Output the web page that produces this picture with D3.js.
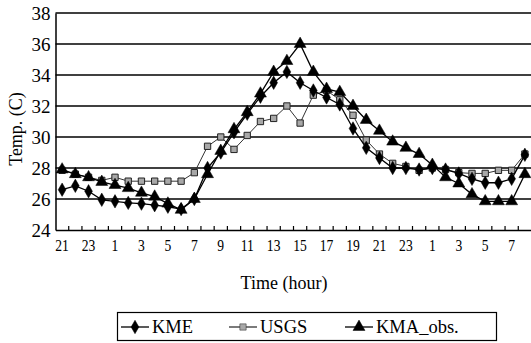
<!DOCTYPE html>
<html>
<head>
<meta charset="utf-8">
<script src="https://cdn.jsdelivr.net/npm/d3@7"></script>
<style>
  html, body { margin: 0; padding: 0; background: #fff; }
  svg { display: block; }
</style>
</head>
<body>
<svg id="chart" width="531" height="343" font-family="Liberation Serif"></svg>
<script>
// Hourly temperature, 21h through 08h two days later
const hours = [21,22,23,0,1,2,3,4,5,6,7,8,9,10,11,12,13,14,15,16,17,18,19,20,21,22,23,0,1,2,3,4,5,6,7,8];
const kme = [26.6,26.85,26.5,25.95,25.85,25.75,25.7,25.6,25.5,25.35,26.0,28.0,29.0,30.3,31.5,32.6,33.5,34.2,33.5,33.0,32.55,32.1,30.55,29.3,28.65,28.0,28.0,27.9,28.0,27.9,27.65,27.3,27.05,27.05,27.3,28.85];
const usgs = [27.85,27.6,27.4,27.2,27.4,27.15,27.15,27.15,27.15,27.15,27.7,29.4,30.0,29.2,30.1,31.0,31.2,32.0,30.9,32.7,33.0,32.4,31.4,29.8,28.9,28.3,28.1,27.85,28.0,27.9,27.7,27.65,27.65,27.85,27.85,28.9];
const kmaObs = [27.9,27.6,27.4,27.1,26.9,26.7,26.4,26.15,25.7,25.3,26.0,27.6,29.1,30.5,31.6,32.8,34.2,34.9,36.0,34.2,33.1,32.9,32.0,31.1,30.4,29.7,29.3,28.9,28.2,27.4,27.0,26.3,25.85,25.85,25.85,27.6];
const yTicks = [24,26,28,30,32,34,36,38];
const seriesNames = ["KME", "USGS", "KMA_obs."];

const FONT = "Liberation Serif";
const svg = d3.select("#chart");
const plot = { left: 55.5, right: 531.5, top: 13, bottom: 230 };

const x = d3.scaleBand().domain(d3.range(hours.length)).range([plot.left, plot.right]).padding(0);
const y = d3.scaleLinear().domain([24, 38]).range([plot.bottom, plot.top]);
const cx = i => x(i) + x.bandwidth() / 2;

// horizontal grid lines
svg.append("g")
  .selectAll("line")
  .data(yTicks.slice(1))
  .join("line")
  .attr("x1", plot.left).attr("x2", plot.right)
  .attr("y1", d => y(d)).attr("y2", d => y(d))
  .attr("stroke", "#000").attr("stroke-width", 1.4);

// y axis
const yAxis = d3.axisLeft(y).tickValues(yTicks).tickSize(0).tickPadding(5).tickFormat(d3.format("d"));
const gy = svg.append("g").attr("transform", `translate(${plot.left},0)`).call(yAxis)
  .attr("font-family", FONT).attr("font-size", 19);
gy.select(".domain").attr("stroke", "#000").attr("stroke-width", 1.5);
gy.selectAll("text").attr("fill", "#000");

// x axis: labels every second hour, narrow glyphs
const xAxis = d3.axisBottom(x).tickSize(0).tickPadding(9)
  .tickFormat(i => (i % 2 === 0 ? String(hours[i]) : ""));
const gx = svg.append("g").attr("transform", `translate(0,${plot.bottom})`).call(xAxis)
  .attr("font-family", FONT).attr("font-size", 17);
gx.select(".domain").attr("stroke", "#000").attr("stroke-width", 1.5);
const sx = 0.8;
gx.selectAll(".tick").each(function(i) {
  d3.select(this).attr("transform", null);
  d3.select(this).select("text")
    .attr("fill", "#000")
    .attr("transform", `scale(${sx},1)`)
    .attr("x", cx(i) / sx).attr("y", 9).attr("dy", "0.71em");
});
// inward ticks at band boundaries
svg.append("g")
  .selectAll("line")
  .data(d3.range(1, hours.length))
  .join("line")
  .attr("x1", i => x(i)).attr("x2", i => x(i))
  .attr("y1", plot.bottom).attr("y2", plot.bottom - 4)
  .attr("stroke", "#000").attr("stroke-width", 1.2);

// axis titles
svg.append("text")
  .attr("transform", `translate(22,129) rotate(-90)`)
  .attr("text-anchor", "middle")
  .attr("font-family", FONT).attr("font-size", 18)
  .text("Temp. (C)");
svg.append("text")
  .attr("x", 284).attr("y", 289)
  .attr("text-anchor", "middle")
  .attr("font-family", FONT).attr("font-size", 18)
  .text("Time (hour)");

// marker shapes
const diamond = d3.symbol().type(d3.symbolDiamond).size(52);
const triangle = d3.symbol().type(d3.symbolTriangle).size(62);
const square = d3.symbol().type(d3.symbolSquare).size(40);

const line = d3.line().x((d, i) => cx(i)).y(d => y(d));

function drawSeries(values, sym, opts) {
  const g = svg.append("g");
  g.append("path").datum(values)
    .attr("d", line).attr("fill", "none")
    .attr("stroke", opts.lineColor).attr("stroke-width", opts.lineWidth);
  g.selectAll("path.m").data(values).join("path").attr("class", "m")
    .attr("transform", (d, i) => `translate(${cx(i)},${y(d)})`)
    .attr("d", sym)
    .attr("fill", opts.fill).attr("stroke", opts.stroke).attr("stroke-width", opts.strokeWidth);
}

drawSeries(usgs, square, { lineColor: "#333", lineWidth: 1, fill: "#a8a8a8", stroke: "#222", strokeWidth: 1 });
drawSeries(kme, diamond, { lineColor: "#000", lineWidth: 1.3, fill: "#000", stroke: "#000", strokeWidth: 0.5 });
drawSeries(kmaObs, triangle, { lineColor: "#000", lineWidth: 1.3, fill: "#000", stroke: "#000", strokeWidth: 0.5 });

// legend
const lg = svg.append("g");
lg.append("rect").attr("x", 117.5).attr("y", 312.5).attr("width", 379).attr("height", 28)
  .attr("fill", "#fff").attr("stroke", "#000").attr("stroke-width", 1.2);
const legendItems = [
  { name: seriesNames[0], x0: 121, sym: diamond, fill: "#000", stroke: "#000", lc: "#000" },
  { name: seriesNames[1], x0: 229, sym: square, fill: "#a8a8a8", stroke: "#222", lc: "#333" },
  { name: seriesNames[2], x0: 345, sym: triangle, fill: "#000", stroke: "#000", lc: "#000" }
];
legendItems.forEach(it => {
  lg.append("line").attr("x1", it.x0).attr("x2", it.x0 + 28).attr("y1", 327).attr("y2", 327)
    .attr("stroke", it.lc).attr("stroke-width", 1.3);
  lg.append("path").attr("transform", `translate(${it.x0 + 14},327)`).attr("d", it.sym)
    .attr("fill", it.fill).attr("stroke", it.stroke).attr("stroke-width", 0.5);
  lg.append("text").attr("x", it.x0 + 31).attr("y", 333)
    .attr("font-family", FONT).attr("font-size", 18.5).text(it.name);
});
</script>
</body>
</html>
